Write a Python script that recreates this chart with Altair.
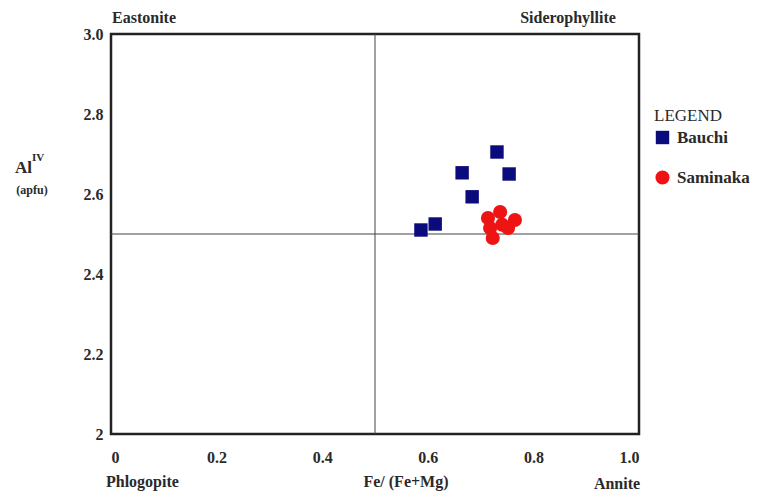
import altair as alt
import pandas as pd

# Data
bauchi_x = [0.731, 0.665, 0.754, 0.684, 0.614, 0.587]
bauchi_y = [2.705, 2.653, 2.650, 2.593, 2.525, 2.510]
saminaka_x = [0.737, 0.714, 0.765, 0.718, 0.741, 0.723, 0.752]
saminaka_y = [2.555, 2.540, 2.535, 2.515, 2.523, 2.490, 2.515]

x_ticks = [0, 0.2, 0.4, 0.6, 0.8, 1.0]
y_ticks = [2.0, 2.2, 2.4, 2.6, 2.8, 3.0]

corner_names = ["Eastonite", "Siderophyllite", "Phlogopite", "Annite"]
corner_x = [0.0, 1.0, 0.0, 1.0]
corner_y = [3.0, 3.0, 2.0, 2.0]

pts = pd.DataFrame({
    "x": bauchi_x + saminaka_x,
    "y": bauchi_y + saminaka_y,
    "group": ["Bauchi"] * len(bauchi_x) + ["Saminaka"] * len(saminaka_x),
})

FONT = "Liberation Serif"
TXT = "#2a2a2a"
FS = 16

xs = alt.Scale(domain=[0, 1], nice=False, zero=False)
ys = alt.Scale(domain=[2, 3], nice=False, zero=False)

leg = alt.Legend(title="LEGEND", orient="none", legendX=543, legendY=74)

points = alt.Chart(pts).mark_point(filled=True, opacity=1).encode(
    x=alt.X("x:Q", scale=xs, axis=alt.Axis(
        values=x_ticks, title=None, grid=False, domain=False, ticks=False,
        labelExpr="datum.value == 0 ? '0' : format(datum.value, '.1f')",
        labelPadding=15, labelFont=FONT, labelFontWeight="bold",
        labelFontSize=FS, labelColor=TXT)),
    y=alt.Y("y:Q", scale=ys, axis=alt.Axis(
        values=y_ticks, title=None, grid=False, domain=False, ticks=False,
        labelExpr="datum.value == 2 ? '2' : format(datum.value, '.1f')",
        labelPadding=8, labelFont=FONT, labelFontWeight="bold",
        labelFontSize=FS, labelColor=TXT)),
    shape=alt.Shape("group:N", scale=alt.Scale(domain=["Bauchi", "Saminaka"], range=["square", "circle"]),
                    legend=leg),
    color=alt.Color("group:N", scale=alt.Scale(domain=["Bauchi", "Saminaka"], range=["#0a0c7c", "#ee1414"]),
                    legend=leg),
    size=alt.Size("group:N", scale=alt.Scale(domain=["Bauchi", "Saminaka"], range=[180, 200]), legend=None),
)

vline = alt.Chart(pd.DataFrame({"x": [0.5]})).mark_rule(color="#444444", strokeWidth=1).encode(
    x=alt.X("x:Q", scale=xs))
hline = alt.Chart(pd.DataFrame({"y": [2.5]})).mark_rule(color="#444444", strokeWidth=1).encode(
    y=alt.Y("y:Q", scale=ys))

corners = pd.DataFrame({"name": corner_names, "x": corner_x, "y": corner_y,
                        "dx": [1, -71, -5, -22], "dy": [-16, -16, 48, 50]})

def corner(i, align):
    return alt.Chart(corners.iloc[[i]]).mark_text(
        font=FONT, fontWeight="bold", fontSize=FS, color=TXT, align=align,
        dx=int(corners.dx[i]), dy=int(corners.dy[i])).encode(
        x=alt.X("x:Q", scale=xs), y=alt.Y("y:Q", scale=ys), text="name:N")

corner_layers = [corner(0, "left"), corner(1, "center"), corner(2, "left"), corner(3, "center")]

titles = pd.DataFrame({
    "t": ["Al", "IV", "(apfu)", "Fe/ (Fe+Mg)"],
    "px": [-96, -73, -79, 295],
    "py": [134, 124, 156, 448],
    "fs": [17, 11, 12, FS],
})

def title_text(i, align):
    r = titles.iloc[i]
    return alt.Chart(titles.iloc[[i]]).mark_text(
        font=FONT, fontWeight="bold", fontSize=int(r.fs), color=TXT, align=align, baseline="middle").encode(
        x=alt.value(int(r.px)), y=alt.value(int(r.py)), text="t:N")

title_layers = [title_text(0, "left"), title_text(1, "center"), title_text(2, "center"), title_text(3, "center")]

chart = alt.layer(vline, hline, points, *corner_layers, *title_layers).properties(
    width=528, height=400,
    background="white",
    autosize=alt.AutoSizeParams(type="none"),
    padding={"left": 103, "top": 26, "right": 117, "bottom": 59},
).configure_view(stroke="#222222", strokeWidth=2.5).configure_legend(
    titleFont=FONT, titleFontWeight="normal", titleFontSize=17, titleColor=TXT,
    labelFont=FONT, labelFontWeight="bold", labelFontSize=17, labelColor=TXT,
    symbolSize=360, rowPadding=19, symbolOpacity=1, titlePadding=4, labelOffset=6,
)

chart.save("out.html", embed_options={"renderer": "svg", "actions": False})
